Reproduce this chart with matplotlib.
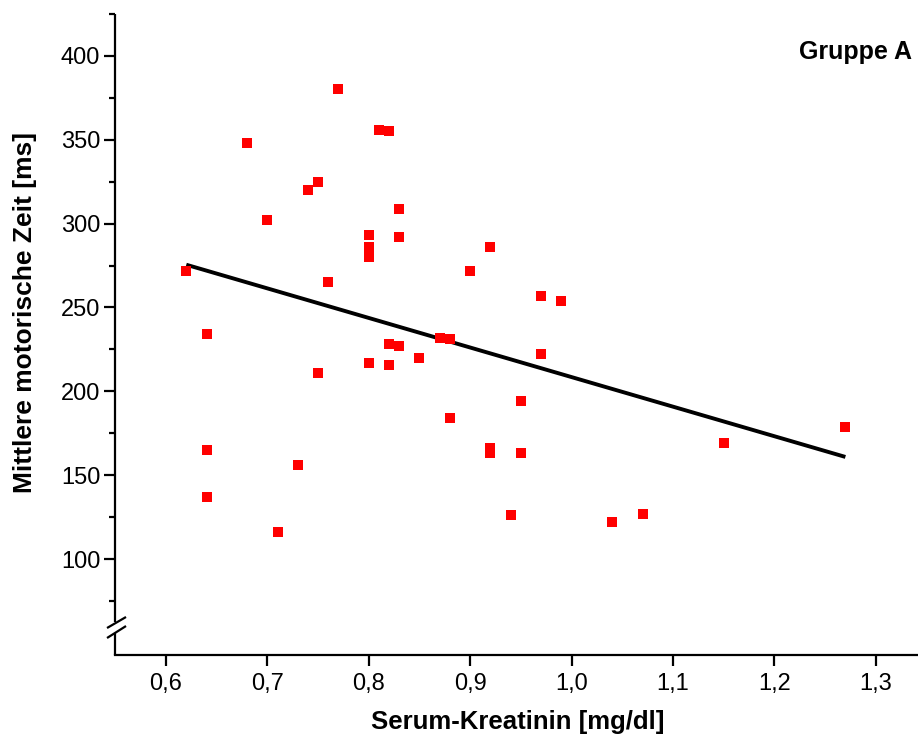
import matplotlib
matplotlib.use("Agg")
import matplotlib.pyplot as plt
from matplotlib.ticker import FixedLocator, FuncFormatter

plt.rcParams['font.family'] = ['Liberation Sans', 'DejaVu Sans']

# Data
kreatinin = [0.62, 0.64, 0.64, 0.64, 0.68, 0.70, 0.71, 0.73, 0.74, 0.75,
             0.75, 0.76, 0.77, 0.80, 0.80, 0.80, 0.80, 0.81, 0.82, 0.82,
             0.82, 0.83, 0.83, 0.83, 0.85, 0.87, 0.88, 0.88, 0.90, 0.92,
             0.92, 0.92, 0.94, 0.95, 0.95, 0.97, 0.97, 0.99, 1.04, 1.07,
             1.15, 1.27]
zeit = [272, 234, 165, 137, 348, 302, 116, 156, 320, 325,
        211, 265, 380, 293, 286, 280, 217, 356, 355, 228,
        216, 309, 292, 227, 220, 232, 231, 184, 272, 286,
        166, 163, 126, 194, 163, 257, 222, 254, 122, 127,
        169, 179]

# regression line end points as seen in the picture
fit_x = [0.62, 1.27]
fit_y = [275.5, 160.9]

x_ticks = [0.6, 0.7, 0.8, 0.9, 1.0, 1.1, 1.2, 1.3]
y_major = [100, 150, 200, 250, 300, 350, 400]
y_minor = [75, 125, 175, 225, 275, 325, 375, 425]

W, H = 918, 736
fig = plt.figure(figsize=(W / 100, H / 100), dpi=100)
ax_left, ax_right, ax_top, ax_bottom = 115.3, 926.5, 14, 655
ax = fig.add_axes([ax_left / W, 1 - ax_bottom / H,
                   (ax_right - ax_left) / W, (ax_bottom - ax_top) / H])

ax.plot(fit_x, fit_y, color='black', lw=2.8, zorder=2, solid_capstyle='butt')
ax.plot(kreatinin, zeit, linestyle='none', marker='s', ms=7.8,
        color='#ff0000', markeredgewidth=0, zorder=3)

ax.set_xlim(0.55, 1.35)
ax.set_ylim(42.8, 425)

ax.spines['top'].set_visible(False)
ax.spines['right'].set_visible(False)
ax.spines['left'].set_visible(False)
ax.spines['bottom'].set_linewidth(1.6)

ax.xaxis.set_major_locator(FixedLocator(x_ticks))
ax.xaxis.set_major_formatter(FuncFormatter(lambda v, p: f"{v:.1f}".replace('.', ',')))
ax.yaxis.set_major_locator(FixedLocator(y_major))
ax.yaxis.set_minor_locator(FixedLocator(y_minor))

ax.tick_params(axis='both', which='major', direction='out', length=7.8,
               width=1.6, labelsize=17, color='black')
ax.tick_params(axis='y', which='minor', direction='out', length=4.5,
               width=1.6)
ax.tick_params(axis='x', which='major', pad=5)
ax.tick_params(axis='y', which='major', pad=3)

# left axis with break
lw = 1.6
kw = dict(transform=ax.transAxes, color='black', lw=lw, clip_on=False,
          solid_capstyle='butt')
ax.plot([0, 0], [1.0, 0.0515], **kw)
ax.plot([0, 0], [0.0343, 0.0], **kw)
ax.plot([-0.0102, 0.0132], [0.0421, 0.0593], **kw)
ax.plot([-0.0102, 0.0132], [0.0265, 0.0452], **kw)

ax.set_xlabel('Serum-Kreatinin [mg/dl]', fontsize=18.5, fontweight='bold')
ax.set_ylabel('Mittlere motorische Zeit [ms]', fontsize=19, fontweight='bold')
ax.xaxis.set_label_coords(0.4966, -0.1045)
ax.yaxis.set_label_coords(-0.111, 0.535)
ax.xaxis.label.set_va('center')
ax.yaxis.label.set_va('center')

fig.text(912 / W, 1 - 52 / H, 'Gruppe A', ha='right', va='center',
         fontsize=18, fontweight='bold')

fig.savefig('out.png', dpi=100)
